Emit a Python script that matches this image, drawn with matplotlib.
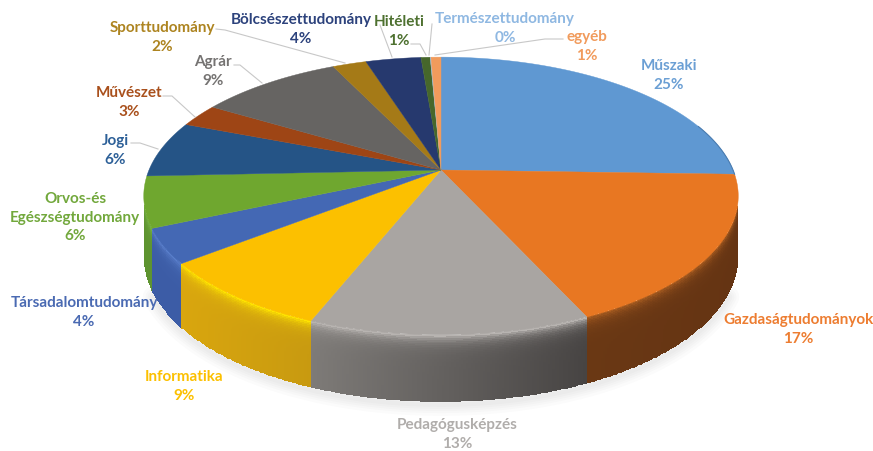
# Perspective pie chart with side wall
import numpy as np
import matplotlib.pyplot as plt
from matplotlib.colors import to_rgb

categories = ['Műszaki', 'Gazdaságtudományok', 'Pedagógusképzés', 'Informatika',
              'Társadalomtudomány', 'Orvos-és\nEgészségtudomány', 'Jogi', 'Művészet',
              'Agrár', 'Sporttudomány', 'Bölcsészettudomány', 'Hitéleti',
              'Természettudomány', 'egyéb']
values = [25.5, 17.7, 12.8, 8.4, 4.0, 5.9, 6.6, 2.7, 9.3, 2.2, 3.6, 0.6, 0.05, 0.65]
percent_labels = ['25%', '17%', '13%', '9%', '4%', '6%', '6%', '3%', '9%', '2%', '4%', '1%', '0%', '1%']

colors = ['#5f98d2', '#e87722', '#a9a5a2', '#fcc000', '#4468b4', '#6fa72f', '#255486',
          '#9e4515', '#666462', '#a57a17', '#26396e', '#46672b', '#9dc3e6', '#f19b5c']
text_colors = ['#6b9fd4', '#ed7d31', '#b0adab', '#fcc000', '#4a6ab2', '#72a83c', '#2d6098',
               '#a9501c', '#757372', '#ad8420', '#2c427c', '#4e7130', '#8fb8e2', '#f19b5c']
# side wall colours: left end, right end, highlight along the rim
wall_left = ['#3f6f9f', '#6a3814', '#7e7b78', '#d9a60e', '#3c5ca6', '#5e9430', '#1c3f66',
             '#773410', '#4c4b4a', '#7c5c12', '#1c2b52', '#344d20', '#7693ad', '#b57445']
wall_right = ['#3f6f9f', '#653413', '#474443', '#c89a10', '#3c5ca6', '#5e9430', '#1c3f66',
              '#773410', '#4c4b4a', '#7c5c12', '#1c2b52', '#344d20', '#7693ad', '#b57445']
wall_rim = ['#6ea5dc', '#a85c20', '#b8b4b1', '#ffe400', '#5a80cc', '#7ab648', '#255486',
            '#9e4515', '#666462', '#a57a17', '#26396e', '#46672b', '#9dc3e6', '#f19b5c']

# text centre of the first line in pixels
label_pos = [(669, 64), (798, 318), (457, 423), (184, 375), (84, 301), (75, 197), (115, 139),
             (129, 91), (213, 60), (162, 26), (301, 18), (399, 20), (505, 17), (587, 35)]
leaders = [[(216, 29), (225, 30), (345, 63)],
           [(380, 25), (392, 57)],
           [(411, 44), (420, 44), (426, 55)],
           [(432, 24), (429, 55)],
           [(563, 39), (545, 39), (435, 55)],
           [(234, 65), (240, 65), (262, 83)],
           [(163, 96), (172, 96), (195, 117)],
           [(131, 143), (140, 143), (158, 149)]]

CX, CY = 441, 170
A, B, K = 292, 134, 0.187


def project(theta):
    # theta clockwise from the top of the disc
    x = np.sin(theta)
    y = np.cos(theta)
    w = 1 + K * y
    return CX + A * x / w, CY - B * y / w


def depth(theta):
    return 59 + 8 * (-np.cos(theta))


plt.rcParams['font.family'] = ['Lato', 'DejaVu Sans']
fig = plt.figure(figsize=(8.73, 4.51), dpi=100)
ax = fig.add_axes([0, 0, 1, 1])
ax.set_xlim(0, 873)
ax.set_ylim(451, 0)
ax.axis('off')

edges = np.concatenate([[0], np.cumsum(values)]) / np.sum(values) * 2 * np.pi

# the wall is only seen between the two silhouette angles
sil = np.arccos(-K)
front_start, front_end = sil, 2 * np.pi - sil

# soft shadow under the wall
th = np.linspace(front_start + 0.25, front_end - 0.25, 300)
sx, sy = project(th)
sy = sy + depth(th)
for lw in [16, 12, 9, 6, 3]:
    ax.plot(sx, sy + 3, color='black', alpha=0.016, lw=lw, solid_capstyle='round', zorder=1)

# side wall, drawn as a fine mesh so it can carry gradients
for i in range(len(values)):
    lo, hi = max(edges[i], front_start), min(edges[i + 1], front_end)
    if hi <= lo:
        continue
    th = np.linspace(lo, hi, max(int((hi - lo) * 150), 2))
    t = np.linspace(0, 1, 40)
    px, py = project(th)
    X = np.outer(px, np.ones_like(t))
    Y = np.outer(py, np.ones_like(t)) + np.outer(depth(th), t)
    # colours across the slice (horizontal) and down from the rim
    u = (px[:-1] - px.min()) / max(px.max() - px.min(), 1)
    u = 1 - u if np.cos(lo) < -0.99 else u
    left, right, rim = map(np.array, (to_rgb(wall_left[i]), to_rgb(wall_right[i]), to_rgb(wall_rim[i])))
    C = np.zeros((len(th) - 1, len(t) - 1, 3))
    for j in range(len(t) - 1):
        w = np.exp(-t[j] / 0.09)
        C[:, j] = (np.outer(1 - u, left) + np.outer(u, right)) * (1 - w) + rim * w
    ax.pcolormesh(X, Y, C, shading='flat', antialiased=False, rasterized=True, zorder=2)

# top of the disc
for i in range(len(values)):
    th = np.linspace(edges[i], edges[i + 1], max(int((edges[i + 1] - edges[i]) * 150), 2))
    px, py = project(th)
    ax.fill(np.r_[CX, px], np.r_[CY, py], color=colors[i], lw=0.3, zorder=3)

# thin dark edge where the first slice turns over the rim
th = np.linspace(edges[1] - np.radians(22), edges[1], 40)
px, py = project(th)
ax.plot(px, py, color='#4a7cb0', lw=0.8, zorder=3)

for line in leaders:
    xs, ys = zip(*line)
    ax.plot(xs, ys, color='#c8c8c8', lw=0.8, zorder=4)

for name, pct, pos, col in zip(categories, percent_labels, label_pos, text_colors):
    ax.text(pos[0], pos[1] - 5, name + '\n' + pct, color=col, ha='center', va='top',
            fontsize=11, fontweight='bold', linespacing=1.43, zorder=5)

plt.savefig('out.png', dpi=100)
